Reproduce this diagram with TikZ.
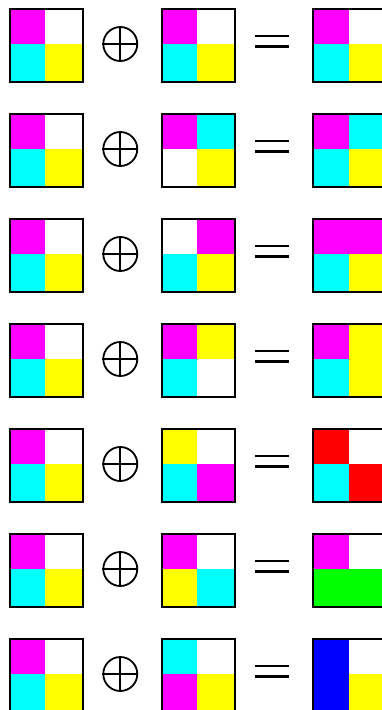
\documentclass[tikz,border=0pt]{standalone}
\usepackage{tikz}
\definecolor{cM}{RGB}{255,0,255}
\definecolor{cC}{RGB}{0,255,255}
\definecolor{cY}{RGB}{255,255,0}
\definecolor{cW}{RGB}{255,255,255}
\definecolor{cR}{RGB}{255,0,0}
\definecolor{cG}{RGB}{0,255,0}
\definecolor{cB}{RGB}{0,0,255}
\tikzset{
  frame/.style={draw=black, line width=2.4pt},
  opl/.style={draw=black, line width=1.8pt},
  eqline/.style={draw=black, line width=2.4pt},
}
% #1 name, #2 x left, #3 y top, #4..#7 colours TL TR BL BR
\newcommand{\quadsq}[7]{%
  \fill[#4] (#2,#3) rectangle ++(36.5,36.5);
  \fill[#5] (#2+36.5,#3) rectangle ++(36.5,36.5);
  \fill[#6] (#2,#3+36.5) rectangle ++(36.5,36.5);
  \fill[#7] (#2+36.5,#3+36.5) rectangle ++(36.5,36.5);
  \node[frame, minimum size=73pt, inner sep=0pt, anchor=north west, fill=none] (#1) at (#2,#3) {};
}
\newcommand{\oplussym}[2]{%
  \node[opl, circle, minimum size=34pt, inner sep=0pt] (#1) at (120.3,#2) {};
  \draw[opl] (#1.north) -- (#1.south);
  \draw[opl] (#1.west) -- (#1.east);
}
\newcommand{\eqsym}[2]{%
  \coordinate (#1a) at (255,#2-5.3);
  \coordinate (#1b) at (289,#2-5.3);
  \coordinate (#1c) at (255,#2+5.3);
  \coordinate (#1d) at (289,#2+5.3);
  \draw[eqline] (#1a) -- (#1b);
  \draw[eqline] (#1c) -- (#1d);
}
\begin{document}
\begin{tikzpicture}[x=1pt,y=-1pt]
\useasboundingbox (0,0) rectangle (382,710);
\clip (0,0) rectangle (382,710);
\fill[white] (0,0) rectangle (382,710);
% row 1
\quadsq{a1}{8.5}{7.5}{cM}{cW}{cC}{cY}
\oplussym{p1}{44}
\quadsq{b1}{160.5}{7.5}{cM}{cW}{cC}{cY}
\eqsym{e1}{41}
\quadsq{c1}{312}{7.5}{cM}{cW}{cC}{cY}
% row 2
\quadsq{a2}{8.5}{112.5}{cM}{cW}{cC}{cY}
\oplussym{p2}{149}
\quadsq{b2}{160.5}{112.5}{cM}{cC}{cW}{cY}
\eqsym{e2}{146}
\quadsq{c2}{312}{112.5}{cM}{cC}{cC}{cY}
% row 3
\quadsq{a3}{8.5}{217.5}{cM}{cW}{cC}{cY}
\oplussym{p3}{254}
\quadsq{b3}{160.5}{217.5}{cW}{cM}{cC}{cY}
\eqsym{e3}{251}
\quadsq{c3}{312}{217.5}{cM}{cM}{cC}{cY}
% row 4
\quadsq{a4}{8.5}{322.5}{cM}{cW}{cC}{cY}
\oplussym{p4}{359}
\quadsq{b4}{160.5}{322.5}{cM}{cY}{cC}{cW}
\eqsym{e4}{356}
\quadsq{c4}{312}{322.5}{cM}{cY}{cC}{cY}
% row 5
\quadsq{a5}{8.5}{427.5}{cM}{cW}{cC}{cY}
\oplussym{p5}{464}
\quadsq{b5}{160.5}{427.5}{cY}{cW}{cC}{cM}
\eqsym{e5}{461}
\quadsq{c5}{312}{427.5}{cR}{cW}{cC}{cR}
% row 6
\quadsq{a6}{8.5}{532.5}{cM}{cW}{cC}{cY}
\oplussym{p6}{569}
\quadsq{b6}{160.5}{532.5}{cM}{cW}{cY}{cC}
\eqsym{e6}{566}
\quadsq{c6}{312}{532.5}{cM}{cW}{cG}{cG}
% row 7
\quadsq{a7}{8.5}{637.5}{cM}{cW}{cC}{cY}
\oplussym{p7}{674}
\quadsq{b7}{160.5}{637.5}{cC}{cW}{cM}{cY}
\eqsym{e7}{671}
\quadsq{c7}{312}{637.5}{cB}{cW}{cB}{cY}
\end{tikzpicture}
\end{document}
